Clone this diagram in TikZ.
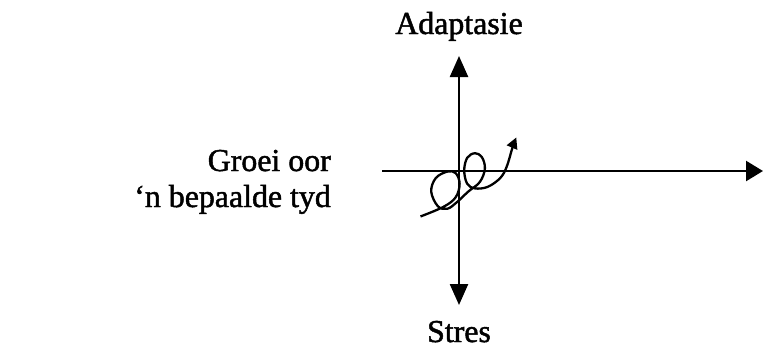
\documentclass[tikz,border=0pt]{standalone}
\usepackage{fontspec}
\setmainfont{Liberation Serif}
\newfontfamily\scanfont[FakeBold=1.5]{Liberation Serif}
\usetikzlibrary{arrows.meta}
\tikzset{
  axis/.style={line width=2.4bp, -{Triangle[length=21bp,width=18bp]}},
  lbl/.style={font=\scanfont\fontsize{32}{38}\selectfont, inner sep=0pt},
}
\begin{document}
\begin{tikzpicture}[x=1bp, y=-1bp]
        \useasboundingbox (0,0) rectangle (763,350);
        % labels
        \node[lbl, anchor=base] (adapt) at (459,34) {Adaptasie};
        \node[lbl, anchor=base] (stres) at (459,342) {Stres};
        \node[lbl, anchor=base east] (groei) at (331,171) {Groei oor};
        \node[lbl, anchor=base east] (tyd) at (331,207) {‘n bepaalde tyd};
        % axes
        \coordinate (orig) at (459,171);
        \coordinate (top) at (459,56);
        \coordinate (bot) at (459,305);
        \coordinate (left) at (382,171);
        \coordinate (right) at (763,171);
        \draw[axis] (orig) -- (top);
        \draw[axis] (orig) -- (bot);
        \draw[axis, -{Triangle[length=17bp,width=20bp]}] (left) -- (right);
        % spiral
        \begin{scope}[shift={(468,180)}, scale=1.15, shift={(-468,-180)}]
        \draw[line width=2.3bp, -{Triangle[length=11bp,width=11bp]}]
            plot [smooth, tension=0.6] coordinates {(426.7,211.7) (446.7,203.3) (457.3,195) (460.7,183.3) (457.3,174) (450,172.7) (440,178.3) (436,190) (441.7,202.7) (450,205) (458.3,199.3) (468.3,190) (478.3,181.7) (482.7,170) (480,160) (474,156.7) (467.3,160.7) (464.7,171.7) (467.3,183.3) (474,187.3) (485,186) (496,178.3) (501.7,168.3) (506.7,151.7) (510,143)};
        \end{scope}
    \end{tikzpicture}
\end{document}
